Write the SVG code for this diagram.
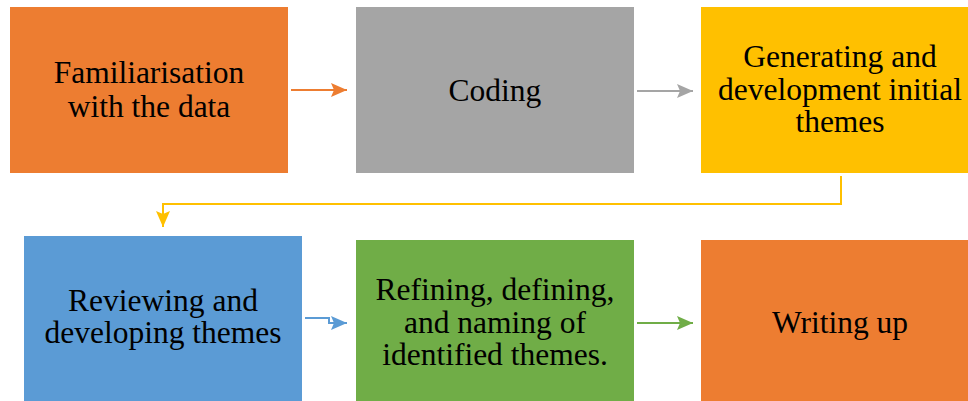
<svg xmlns="http://www.w3.org/2000/svg" width="968" height="401" viewBox="0 0 968 401">
<style>
.t{font-family:"Liberation Serif","Times New Roman",serif;font-size:31.5px;fill:#000;text-anchor:middle}
.c{fill:none;stroke-width:2}
</style>
<defs>
<marker id="aO" markerUnits="userSpaceOnUse" markerWidth="18" markerHeight="16" refX="16" refY="7" orient="auto"><path d="M0,0 L16,7 L0,14 L3,7 z" fill="#ED7D31"/></marker>
<marker id="aG" markerUnits="userSpaceOnUse" markerWidth="18" markerHeight="16" refX="16" refY="7" orient="auto"><path d="M0,0 L16,7 L0,14 L3,7 z" fill="#A5A5A5"/></marker>
<marker id="aY" markerUnits="userSpaceOnUse" markerWidth="18" markerHeight="16" refX="16" refY="7" orient="auto"><path d="M0,0 L16,7 L0,14 L3,7 z" fill="#FFC000"/></marker>
<marker id="aB" markerUnits="userSpaceOnUse" markerWidth="18" markerHeight="16" refX="16" refY="7" orient="auto"><path d="M0,0 L16,7 L0,14 L3,7 z" fill="#5B9BD5"/></marker>
<marker id="aN" markerUnits="userSpaceOnUse" markerWidth="18" markerHeight="16" refX="16" refY="7" orient="auto"><path d="M0,0 L16,7 L0,14 L3,7 z" fill="#70AD47"/></marker>
</defs>
<rect width="968" height="401" fill="#fff"/>
<g id="n1"><rect x="10" y="7" width="278" height="166" fill="#ED7D31"/><text class="t" x="149" y="83">Familiarisation</text><text class="t" x="149" y="117">with the data</text></g>
<g id="n2"><rect x="356" y="7" width="278" height="166" fill="#A5A5A5"/><text class="t" x="495" y="101">Coding</text></g>
<g id="n3"><rect x="701" y="7" width="278" height="166" fill="#FFC000"/><text class="t" x="840" y="67">Generating and</text><text class="t" x="840" y="100">development initial</text><text class="t" x="840" y="132">themes</text></g>
<g id="n4"><rect x="24" y="236" width="278" height="166" fill="#5B9BD5"/><text class="t" x="163" y="311">Reviewing and</text><text class="t" x="163" y="343">developing themes</text></g>
<g id="n5"><rect x="356" y="240" width="278" height="166" fill="#70AD47"/><text class="t" x="495" y="300">Refining, defining,</text><text class="t" x="495" y="333">and naming of</text><text class="t" x="495" y="365">identified themes.</text></g>
<g id="n6"><rect x="701" y="240" width="278" height="166" fill="#ED7D31"/><text class="t" x="840" y="333">Writing up</text></g>
<g id="connectors">
<path class="c" d="M291,90 H347" stroke="#ED7D31" marker-end="url(#aO)"/>
<path class="c" d="M637,91 H693" stroke="#A5A5A5" marker-end="url(#aG)"/>
<path class="c" d="M841,176 V204 H163 V227" stroke="#FFC000" marker-end="url(#aY)"/>
<path class="c" d="M305,318 H329 V323 H347" stroke="#5B9BD5" marker-end="url(#aB)"/>
<path class="c" d="M637,323 H693" stroke="#70AD47" marker-end="url(#aN)"/>
</g>
</svg>
